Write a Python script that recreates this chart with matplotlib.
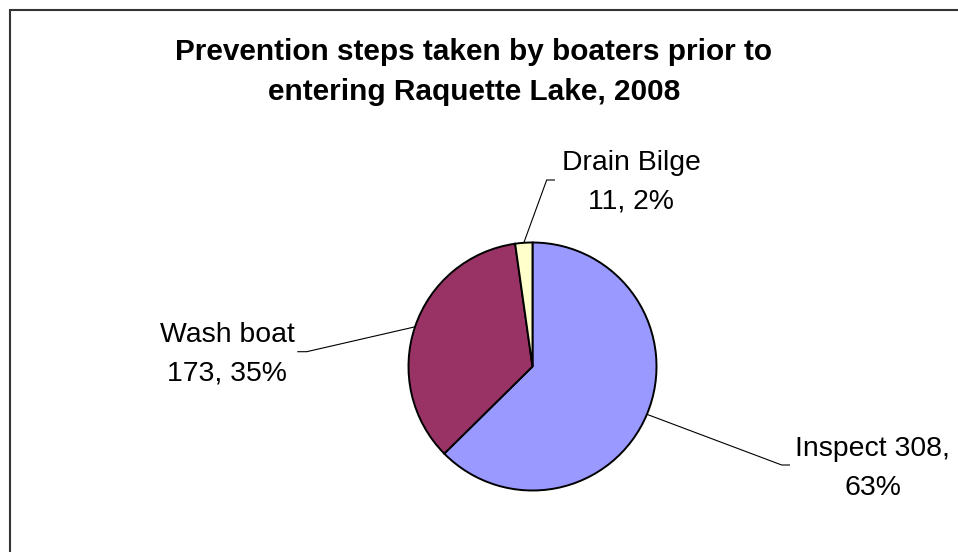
import numpy as np
import matplotlib
matplotlib.use('Agg')
import matplotlib.pyplot as plt
from matplotlib.patches import Rectangle

plt.rcParams['font.family'] = ['Liberation Sans', 'DejaVu Sans']

title_lines = ['Prevention steps taken by boaters prior to',
               'entering Raquette Lake, 2008']
steps = ['Inspect', 'Wash boat', 'Drain Bilge']
counts = [308, 173, 11]
colors = ['#9999FF', '#993366', '#FFFFCC']

W, H = 958, 552


def main():
    fig = plt.figure(figsize=(W / 100, H / 100), dpi=100)
    ax = fig.add_axes([0, 0, 1, 1])
    ax.set_xlim(0, W)
    ax.set_ylim(0, H)
    ax.set_aspect('equal')
    ax.axis('off')

    # chart frame, cut off on the right and bottom
    fig.patches.append(Rectangle((9.5 / W, -0.1), 1.2, (H - 9.5) / H + 0.1,
                                 transform=fig.transFigure, fill=False,
                                 edgecolor='#333333', linewidth=1.5))

    cx, cy, r = 532.5, H - 366.5, 124
    wedges, _ = ax.pie(counts, colors=colors, startangle=90, counterclock=False,
                       center=(cx, cy), radius=r,
                       wedgeprops=dict(edgecolor='black', linewidth=1.4))
    ax.set_xlim(0, W)
    ax.set_ylim(0, H)

    total = sum(counts)
    pcts = [round(100 * c / total) for c in counts]
    label_lines = [
        [f'{steps[0]} {counts[0]},', f'{pcts[0]}%'],
        [steps[1], f'{counts[1]}, {pcts[1]}%'],
        [steps[2], f'{counts[2]}, {pcts[2]}%'],
    ]
    # label centre x, first baseline y, leader elbow and end (pixels from top-left)
    label_pos = [(872.5, 456.5), (227, 342), (631, 170.5)]
    leader = [((781.7, 465), (790, 465)),
              ((306.7, 351.7), (297.3, 351.7)),
              ((546.7, 180), (555, 180))]

    for w, lines, (lx, ly), (elbow, end) in zip(wedges, label_lines, label_pos, leader):
        mid = np.deg2rad((w.theta1 + w.theta2) / 2)
        sx, sy = cx + r * np.cos(mid), cy + r * np.sin(mid)
        ax.plot([sx, elbow[0], end[0]], [sy, H - elbow[1], H - end[1]],
                color='black', linewidth=0.8, solid_capstyle='butt', zorder=0)
        for i, s in enumerate(lines):
            ax.text(lx, H - (ly + 38.5 * i), s, ha='center', va='baseline',
                    fontsize=20.4)

    for i, s in enumerate(title_lines):
        ax.text(474, H - (59.5 + 40.5 * i), s, ha='center', va='baseline',
                fontsize=21.45, fontweight='bold')

    fig.savefig('out.png', dpi=100)


if __name__ == '__main__':
    main()
